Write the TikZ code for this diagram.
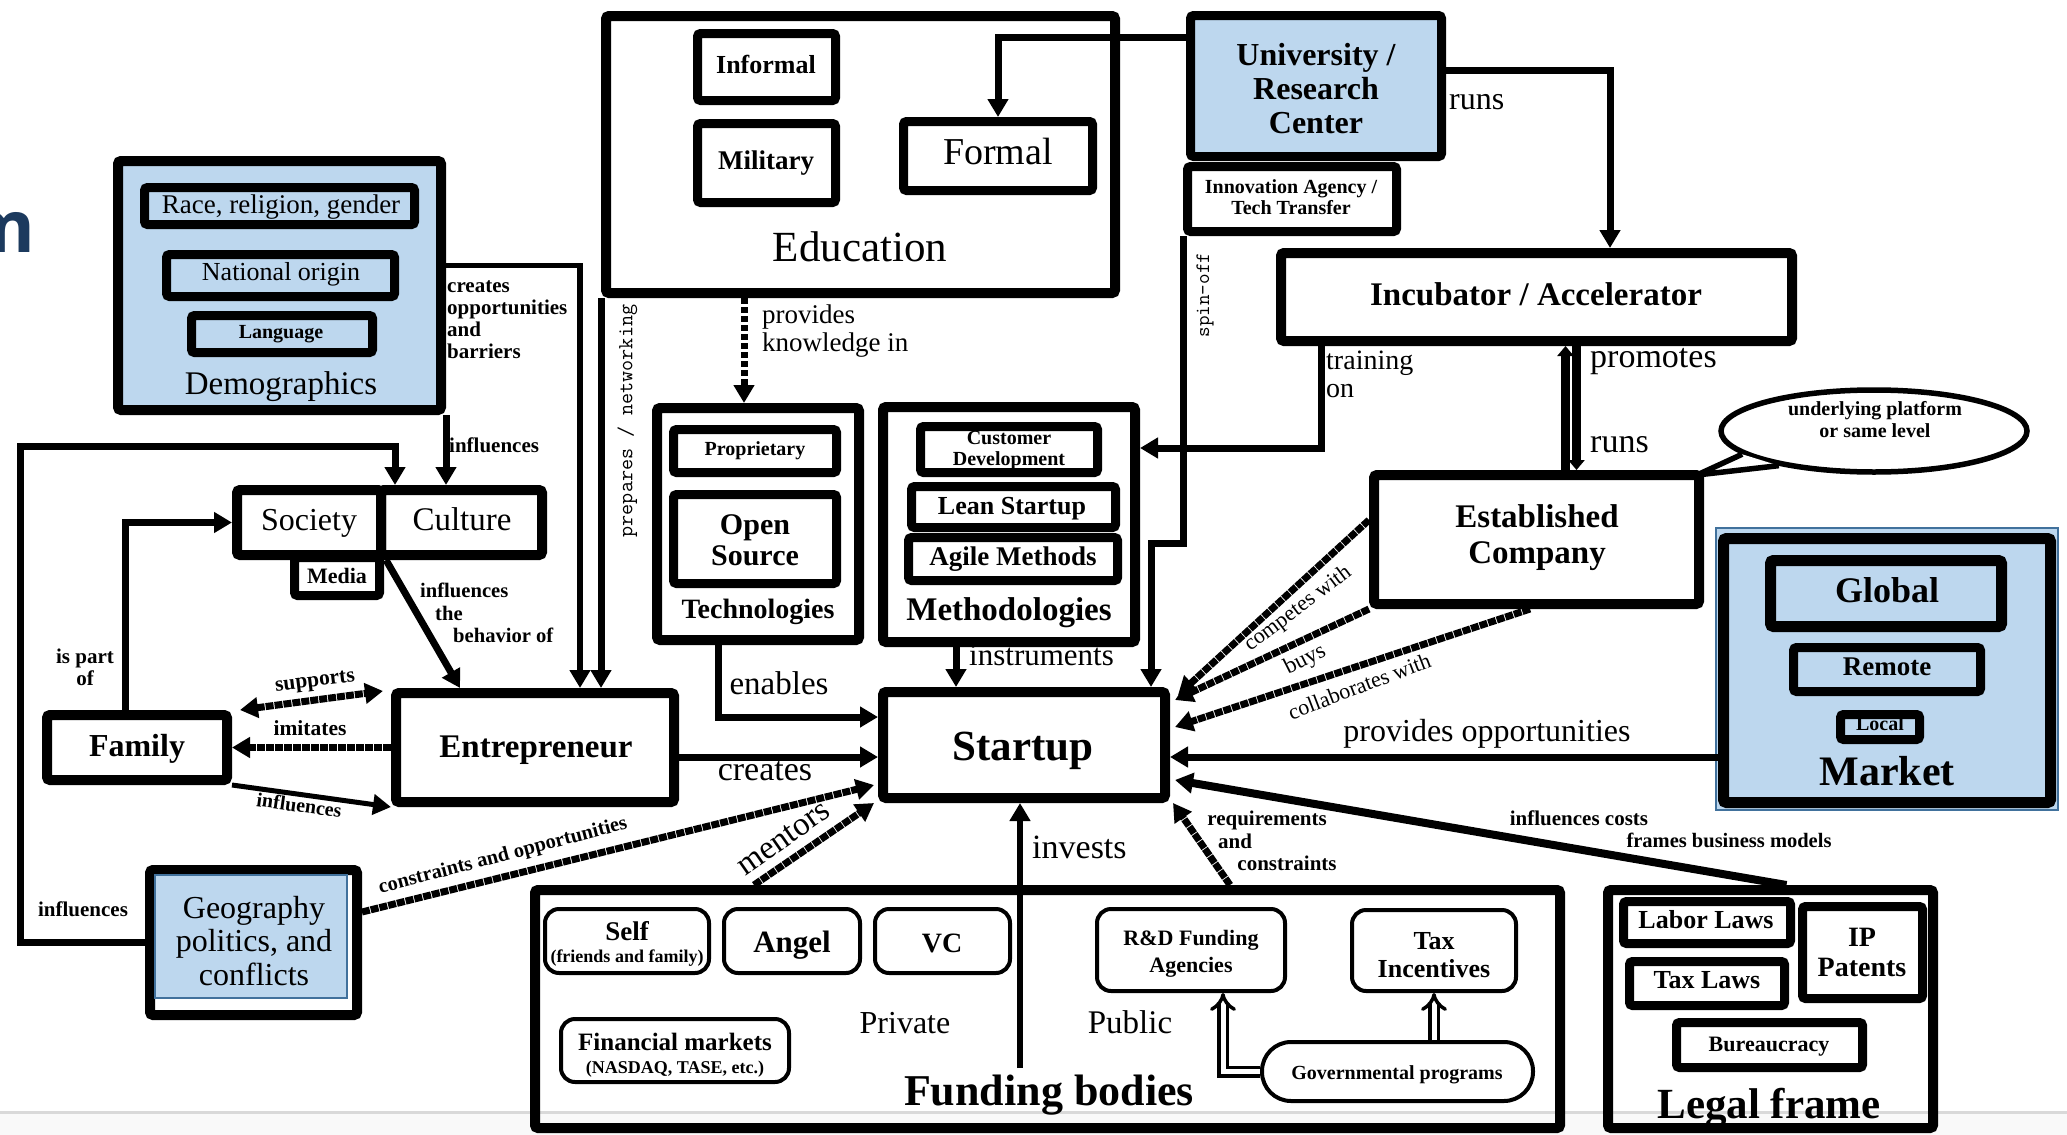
\documentclass[tikz,border=0pt]{standalone}
\usepackage{fontspec}
\setmainfont{Liberation Serif}
\newfontfamily\titlef{Open Sans}
\usetikzlibrary{arrows.meta,fit,shapes.geometric}
\newcommand\fsz[1]{\fontsize{#1pt}{#1pt}\selectfont}
\newcommand\fss[2]{\fontsize{#1pt}{#2pt}\selectfont}
\definecolor{lblue}{HTML}{BDD7EE}
\definecolor{sblue}{HTML}{41719C}
\definecolor{navy}{HTML}{1C3A5E}
\tikzset{
 bigbox/.style={draw, line width=10pt, rounded corners=3pt, inner sep=0pt},
 midbox/.style={draw, line width=9pt, rounded corners=3pt, inner sep=0pt},
 thinbox/.style={draw, line width=4pt, rounded corners=14pt, inner sep=0pt},
 conn/.style={line width=7pt, ->},
 rough/.style={line width=7pt, dash pattern=on 8pt off 1pt, ->},
 lab/.style={inner sep=0pt, text height=.72em, text depth=.22em},
 mlab/.style={inner sep=0pt, align=center},
 dblarrow/.style={double, double distance=5pt, line width=3.5pt, -{Implies}},
}
\begin{document}
\begin{tikzpicture}[x=1pt, y=-1pt, >={Triangle[length=18pt,width=20pt]}]
\useasboundingbox (0,0) rectangle (2067,1135);
\fill[white] (0,0) rectangle (2067,1135);
\fill[gray!5] (0,1113) rectangle (2067,1135);
\draw[gray!30, line width=3pt] (0,1112) -- (2067,1112);

% title fragment
\node[anchor=east, inner sep=0pt, text=navy, font=\titlef\bfseries\fsz{72}] (ttl) at (35,232) {m};

% Demographics
\node[bigbox, fill=lblue, fit={(118,161)(441,410)}] (demo) {};
\node[midbox, fill=lblue, fit={(144.5,187.5)(414.5,224.5)}] (race) {};
\node[midbox, fill=lblue, fit={(166.5,254.5)(394.5,296.5)}] (nat) {};
\node[midbox, fill=lblue, fit={(191.5,315.5)(372.5,352.5)}] (lang) {};
\node[lab, node font=\fsz{27}] (racet) at (281,207) {Race, religion, gender};
\node[lab, node font=\fsz{26}] (natt) at (281,274) {National origin};
\node[lab, node font=\bfseries\fsz{20}] (langt) at (281,333) {Language};
\node[lab, node font=\fsz{33}] (demolab) at (281,386) {Demographics};

% Education
\node[bigbox, fit={(606,16)(1115,293)}] (edu) {};
\node[midbox, fit={(697.5,33.5)(835.5,100.5)}] (inf) {};
\node[midbox, fit={(697.5,123.5)(835.5,202.5)}] (mil) {};
\node[midbox, fit={(903.5,121.5)(1092.5,190.5)}] (formal) {};
\node[lab, node font=\bfseries\fsz{26}] (inft) at (766,67) {Informal};
\node[lab, node font=\bfseries\fsz{27}] (milt) at (766,163) {Military};
\node[lab, node font=\fsz{38}] (formalt) at (998,155) {Formal};
\node[lab, node font=\fsz{43}] (edulab) at (860,251) {Education};

% University / Innovation agency
\node[midbox, fill=lblue, fit={(1190.5,15.5)(1441.5,156.5)}] (uni) {};
\node[mlab, node font=\bfseries\fss{32}{34}] (unit) at (1316,89) {University /\\Research\\Center};
\node[midbox, fill=white, fit={(1187.5,166.5)(1396.5,231.5)}] (inn) {};
\node[mlab, node font=\bfseries\fss{20}{21}] (innt) at (1291,197) {Innovation Agency /\\Tech Transfer};

% Incubator
\node[bigbox, fit={(1281,253)(1792,341)}] (inc) {};
\node[lab, node font=\bfseries\fsz{33}] (inct) at (1536,297) {Incubator / Accelerator};

% speech bubble
\coordinate (esttip) at (1697,475);
\node[draw, ellipse, line width=5.5pt, fill=white, minimum width=306pt, minimum height=82pt, inner sep=0pt] (bub) at (1874,431) {};
\fill[white] (bub.190) -- (esttip) -- (bub.200) -- cycle;
\draw[line width=5.5pt, line join=round] (bub.190) -- (esttip) -- (bub.200);
\node[mlab, node font=\bfseries\fss{20}{22}] (bubtxt) at (1875,420) {underlying platform\\or same level};

% Established
\node[bigbox, fit={(1374,475)(1699,604)}] (est) {};
\node[mlab, node font=\bfseries\fss{33}{36}] (estt) at (1537,538) {Established\\Company};

% Market
\draw[sblue, line width=1.5pt, fill=lblue] (1716,528) rectangle (2058,810);
\node[draw, line width=11pt, rounded corners=3pt, inner sep=0pt, fit={(1723.5,538.5)(2050.5,802.5)}] (mkt) {};
\node[draw, line width=11pt, rounded corners=3pt, inner sep=0pt, fill=lblue, fit={(1770.5,560.5)(2001.5,626.5)}] (glob) {};
\node[midbox, fill=lblue, fit={(1793.5,647.5)(1980.5,691.5)}] (rem) {};
\node[midbox, fill=lblue, fit={(1840.5,714.5)(1919.5,739.5)}] (loc) {};
\node[lab, node font=\bfseries\fsz{36}] (globt) at (1887,593) {Global};
\node[lab, node font=\bfseries\fsz{27}] (remt) at (1887,669) {Remote};
\node[lab, node font=\bfseries\fsz{20}] (loct) at (1880,725) {Local};
\node[lab, node font=\bfseries\fsz{42}] (mktlab) at (1887,775) {Market};

% Society / Culture / Media
\node[bigbox, fit={(237,490)(381,555)}] (soc) {};
\node[bigbox, fit={(381,490)(542,555)}] (cul) {};
\node[midbox, fit={(294.5,557.5)(379.5,595.5)}] (med) {};
\node[lab, node font=\fsz{32}] (soct) at (309,522) {Society};
\node[lab, node font=\fsz{33}] (cult) at (462,522) {Culture};
\node[lab, node font=\bfseries\fsz{22}] (medt) at (337,578) {Media};

% Family, Entrepreneur
\node[bigbox, fit={(47,715)(227,780)}] (fam) {};
\node[bigbox, fit={(396,693)(674,802)}] (ent) {};
\node[lab, node font=\bfseries\fsz{32}] (famt) at (137,748) {Family};
\node[lab, node font=\bfseries\fsz{33}] (entt) at (536,749) {Entrepreneur};

% Technologies
\node[bigbox, fit={(657,408)(859,640)}] (tech) {};
\node[midbox, fit={(673.5,429.5)(836.5,472.5)}] (prop) {};
\node[midbox, fit={(673.5,494.5)(836.5,583.5)}] (oss) {};
\node[lab, node font=\bfseries\fsz{20}] (propt) at (755,450) {Proprietary};
\node[mlab, node font=\bfseries\fss{30}{31}] (osst) at (755,540) {Open\\Source};
\node[lab, node font=\bfseries\fsz{28}] (techlab) at (758,611) {Technologies};

% Methodologies
\node[bigbox, fit={(883,407)(1135,642)}] (meth) {};
\node[midbox, fit={(920.5,426.5)(1097.5,472.5)}] (cdev) {};
\node[midbox, fit={(911.5,486.5)(1115.5,527.5)}] (lean) {};
\node[midbox, fit={(908.5,537.5)(1117.5,580.5)}] (agile) {};
\node[mlab, node font=\bfseries\fss{20}{21}] (cdevt) at (1009,451) {Customer\\Development};
\node[lab, node font=\bfseries\fsz{26}] (leant) at (1012,508) {Lean Startup};
\node[lab, node font=\bfseries\fsz{27}] (agilet) at (1013,559) {Agile Methods};
\node[lab, node font=\bfseries\fsz{33}] (methlab) at (1009,612) {Methodologies};

% Startup
\node[bigbox, fit={(883,692)(1165,798)}] (st) {};
\node[lab, node font=\bfseries\fsz{43}] (stt) at (1023,750) {Startup};

% Geography
\node[bigbox, fit={(150,870)(357,1015)}] (geo) {};
\draw[sblue, line width=1.5pt, fill=lblue] (155,875) rectangle (347,998);
\node[mlab, node font=\fss{32}{33.5}] (geotxt) at (254,941) {Geography\\politics, and\\conflicts};

% Funding bodies
\node[bigbox, fit={(535,890)(1560,1128)}] (fund) {};
\node[thinbox, fit={(545,909)(709,973)}] (self) {};
\node[lab, node font=\bfseries\fsz{27}] (selft) at (627,934) {Self};
\node[lab, node font=\bfseries\fsz{18}] (selfs) at (627,958) {(friends and family)};
\node[thinbox, fit={(724,909)(860,973)}] (angel) {};
\node[lab, node font=\bfseries\fsz{31}] (angelt) at (792,945) {Angel};
\node[thinbox, fit={(875,909)(1010,973)}] (vc) {};
\node[lab, node font=\bfseries\fsz{28}] (vct) at (942,945) {VC};
\node[thinbox, fit={(1097,909)(1285,991)}] (rnd) {};
\node[mlab, node font=\bfseries\fss{22}{27}] (rndt) at (1191,954) {R\&D Funding\\Agencies};
\node[thinbox, fit={(1352,910)(1516,991)}] (taxi) {};
\node[mlab, node font=\bfseries\fss{26}{28}] (taxit) at (1434,955) {Tax\\Incentives};
\node[thinbox, fit={(561,1019)(789,1082)}] (finm) {};
\node[lab, node font=\bfseries\fsz{25}] (finmt) at (675,1044) {Financial markets};
\node[lab, node font=\bfseries\fsz{18}] (finms) at (675,1069) {(NASDAQ, TASE, etc.)};
\node[lab, node font=\fsz{32}] (priv) at (905,1025) {Private};
\node[lab, node font=\fsz{33}] (pub) at (1130,1025) {Public};
\node[thinbox, rounded corners=29pt, fit={(1262,1042)(1533,1101)}] (gov) {};
\node[lab, node font=\bfseries\fsz{20}] (govt) at (1397,1074) {Governmental programs};
\node[lab, node font=\bfseries\fsz{44}] (fundlab) at (1049,1094) {Funding bodies};
\draw[dblarrow] (gov.west) -| ([xshift=32pt]rnd.south);
\draw[dblarrow] (gov.north -| taxi.south) -- (taxi.south);

% Legal frame
\node[bigbox, fit={(1608,890)(1933,1128)}] (legal) {};
\node[midbox, fit={(1623.5,901.5)(1790.5,943.5)}] (labor) {};
\node[midbox, fit={(1802.5,906.5)(1922.5,998.5)}] (ip) {};
\node[midbox, fit={(1629.5,961.5)(1784.5,1005.5)}] (taxl) {};
\node[midbox, fit={(1676.5,1022.5)(1862.5,1067.5)}] (bur) {};
\node[lab, node font=\bfseries\fsz{26}] (labort) at (1706,922) {Labor Laws};
\node[mlab, node font=\bfseries\fss{28}{30}] (ipt) at (1862,952) {IP\\Patents};
\node[lab, node font=\bfseries\fsz{26}] (taxlt) at (1707,982) {Tax Laws};
\node[lab, node font=\bfseries\fsz{22}] (burt) at (1769,1046) {Bureaucracy};
\node[lab, node font=\bfseries\fsz{43}] (legallab) at (1769,1108) {Legal frame};

% ---------- connectors ----------
\draw[conn] (demo.south east) -- (demo.south east |- cul.north);
\draw[line width=5.5pt, ->] ([yshift=20pt]demo.east) -| ([xshift=45pt]ent.north);
\draw[conn] (edu.south west) -- (edu.south west |- ent.north);
\draw[line width=7pt, dash pattern=on 6pt off 3pt, ->] ([xshift=-14pt]tech.north |- edu.south) -- ([xshift=-14pt]tech.north);
\draw[conn] ([yshift=49pt]uni.west) -| (formal.north);
\draw[conn] ([yshift=16pt]uni.east) -| ([xshift=73.5pt]inc.north);
\coordinate (sb) at (1151,543);
\draw[conn] (inn.south west) |- (sb) -- (sb |- st.north);
\draw[conn] ([xshift=-215.5pt]inc.south) |- ([yshift=76.5pt]meth.east);
\draw[line width=9.5pt, -{Triangle[length=10pt,width=16pt]}] ([xshift=29pt]est.north) -- ([xshift=29pt]inc.south);
\draw[line width=9.5pt, -{Triangle[length=10pt,width=16pt]}] ([xshift=40pt]inc.south) -- ([xshift=40pt]est.north);
\draw[rough] ([yshift=19.5pt]est.west) -- ([xshift=8pt,yshift=-8pt]st.north east);
\draw[rough] (est.south west) -- ([xshift=5pt,yshift=45pt]st.east);
\draw[rough] ([xshift=-6.5pt]est.south) -- ([xshift=5pt,yshift=18pt]st.east);
\draw[conn] ([yshift=-86.5pt]mkt.west) -- ([yshift=-86.5pt]mkt.west -| st.east);
\draw[line width=8pt, ->] ([xshift=16pt]legal.north) -- ([xshift=5pt,yshift=-35pt]st.east);
\coordinate (inv) at (1020,1068);
\draw[line width=6pt, ->] (inv) -- (inv |- st.south);
\draw[rough] ([xshift=-293.5pt]fund.north) -- ([xshift=-4pt]st.south west);
\draw[rough] ([xshift=182.5pt]fund.north) -- ([xshift=3pt]st.south east);
\draw[rough] ([yshift=30.5pt]geo.east) -- ([xshift=-4pt,yshift=-40pt]st.west);
\coordinate (loop) at (20,446);
\draw[conn] (geo.west) -| (loop) -| ([xshift=-66.5pt]cul.north);
\draw[conn] ([xshift=-40pt]tech.south) |- ([yshift=28pt]st.west);
\draw[conn] ([xshift=-53pt]meth.south) -- ([xshift=-53pt]meth.south |- st.north);
\draw[conn] ([yshift=-9.5pt]ent.east) -- ([yshift=-9.5pt]ent.east -| st.west);
\draw[conn] (soc.south east) -- ([xshift=-75pt]ent.north);
\draw[conn] ([xshift=-12pt]fam.north) |- (soc.west);
\draw[rough, <->] ([xshift=8pt]fam.north east) -- ([xshift=-8pt,yshift=-3pt]ent.north west);
\draw[rough] (ent.west) -- (fam.east);
\draw[line width=5pt, ->] (fam.south east) -- (ent.south west);

% ---------- connector labels ----------
\node[lab, anchor=west, node font=\bfseries\fsz{21}] (l1) at (449,447) {influences};
\node[lab, anchor=west, node font=\bfseries\fsz{21}] (l2a) at (447,287) {creates};
\node[lab, anchor=west, node font=\bfseries\fsz{21}] (l2b) at (447,309) {opportunities};
\node[lab, anchor=west, node font=\bfseries\fsz{21}] (l2c) at (447,331) {and};
\node[lab, anchor=west, node font=\bfseries\fsz{21}] (l2d) at (447,353) {barriers};
\node[lab, rotate=90, node font=\ttfamily\fsz{21.5}] (l3) at (627,421) {prepares / networking};
\node[lab, anchor=west, node font=\fsz{27}] (l4a) at (762,317) {provides};
\node[lab, anchor=west, node font=\fsz{27}] (l4b) at (762,345) {knowledge in};
\node[lab, anchor=west, node font=\fsz{32}] (l5) at (1449,101) {runs};
\node[lab, rotate=90, node font=\ttfamily\fsz{20.5}] (l6) at (1204,295) {spin-off};
\node[lab, anchor=west, node font=\fsz{28}] (l7a) at (1326,362) {training};
\node[lab, anchor=west, node font=\fsz{28}] (l7b) at (1326,390) {on};
\node[lab, anchor=west, node font=\fsz{34}] (l8a) at (1590,359) {promotes};
\node[lab, anchor=west, node font=\fsz{34}] (l8b) at (1590,444) {runs};
\node[lab, rotate=37, node font=\fsz{22}] (l9) at (1298,609) {competes with};
\node[lab, rotate=27, node font=\fsz{23}] (l10) at (1305,660) {buys};
\node[lab, rotate=21, node font=\fsz{22}] (l11) at (1360,688) {collaborates with};
\node[lab, node font=\fsz{32}] (l12) at (1487,733) {provides opportunities};
\node[lab, node font=\bfseries\fsz{21}] (l13a) at (1579,820) {influences costs};
\node[lab, node font=\bfseries\fsz{20.5}] (l13b) at (1729,842) {frames business models};
\node[lab, node font=\bfseries\fsz{21}] (l14a) at (1267,820) {requirements};
\node[lab, node font=\bfseries\fsz{21}] (l14b) at (1235,843) {and};
\node[lab, node font=\bfseries\fsz{21}] (l14c) at (1287,865) {constraints};
\node[lab, anchor=west, node font=\fsz{34}] (l15) at (1032,850) {invests};
\node[lab, rotate=35, node font=\fsz{33}] (l16) at (784,839) {mentors};
\node[lab, rotate=14.7, node font=\bfseries\fsz{20.4}] (l17) at (503,856) {constraints and opportunities};
\node[lab, node font=\bfseries\fsz{21}] (l18) at (83,911) {influences};
\node[lab, node font=\fsz{33}] (l19) at (779,686) {enables};
\node[lab, anchor=west, node font=\fsz{31}] (l20) at (969,658) {instruments};
\node[lab, node font=\fsz{34}] (l21) at (765,772) {creates};
\node[lab, anchor=west, node font=\bfseries\fsz{20.6}] (l22a) at (420,592) {influences};
\node[lab, anchor=west, node font=\bfseries\fsz{20.6}] (l22b) at (435,615) {the};
\node[lab, anchor=west, node font=\bfseries\fsz{20.6}] (l22c) at (453,637) {behavior of};
\node[lab, node font=\bfseries\fsz{21}] (l23a) at (85,658) {is part};
\node[lab, node font=\bfseries\fsz{21}] (l23b) at (85,680) {of};
\node[lab, rotate=7, node font=\bfseries\fsz{21.5}] (l24) at (315,681) {supports};
\node[lab, node font=\bfseries\fsz{21.5}] (l25) at (310,730) {imitates};
\node[lab, rotate=-8, node font=\bfseries\fsz{20}] (l26) at (299,807) {influences};
\end{tikzpicture}
\end{document}
